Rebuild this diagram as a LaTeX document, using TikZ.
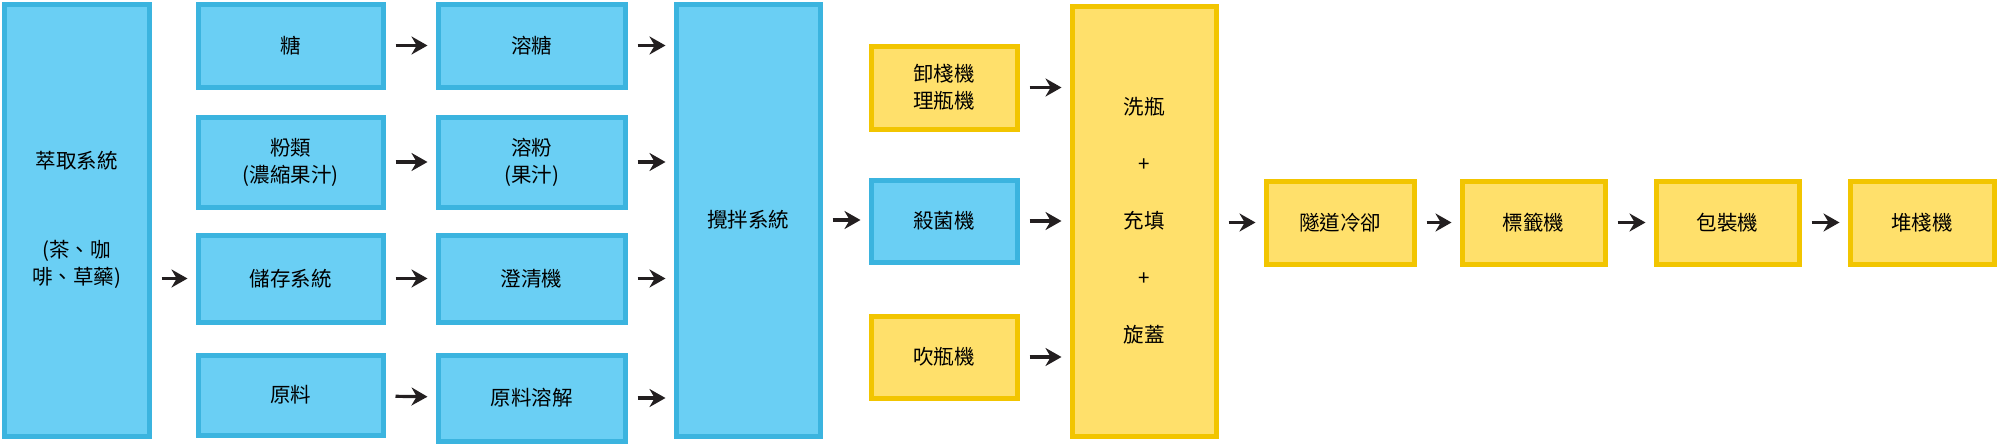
\documentclass[tikz,border=0pt]{standalone}
\usepackage{fontspec}
\newfontfamily\cjk{Noto Sans CJK TC}
\usetikzlibrary{arrows.meta}
\definecolor{bfill}{HTML}{6ACFF4}
\definecolor{bline}{HTML}{3BB4DF}
\definecolor{yfill}{HTML}{FFE06B}
\definecolor{yline}{HTML}{F2C500}
\definecolor{arr}{HTML}{231F20}

\begin{document}
\begin{tikzpicture}[x=1pt,y=-1pt,
    box/.style={draw=bline,fill=bfill,line width=5pt,inner sep=0pt,align=center,
      font=\cjk\fontsize{20.5}{27}\selectfont},
    ybox/.style={box,draw=yline,fill=yfill},
    flow/.style={draw=arr,line width=3.2pt,-{Stealth[length=16pt,width=18pt]},
      shorten <=10pt,shorten >=8pt}]
    \useasboundingbox (0,0) rectangle (2000,447);
    % intake column
    \node[box,minimum width=145,minimum height=432] (extract) at (76.5,220)
      {萃取系統\\[62pt](茶、咖\\啡、草藥)};
    \foreach \n/\y/\h/\t in {sugar/45.5/83/糖, powder/162/90/粉類\\(濃縮果汁),
        store/278.5/87/儲存系統, raw/395/80/原料}{
      \node[box,minimum width=185,minimum height=\h] (\n) at (290.5,\y) {\t};
    }
    \foreach \n/\y/\h/\t in {dsugar/45.5/83/溶糖, dpowder/162/90/溶粉\\(果汁),
        clarify/278.5/87/澄清機, rawsol/398/86/原料溶解}{
      \node[box,minimum width=187,minimum height=\h] (\n) at (531.5,\y) {\t};
    }
    \node[box,minimum width=144,minimum height=432] (mix) at (748,220) {攪拌系統};
    % bottling
    \node[ybox,minimum width=146,minimum height=83] (unload) at (944,87.5) {卸棧機\\理瓶機};
    \node[box,minimum width=146,minimum height=82] (steril) at (944,221) {殺菌機};
    \node[ybox,minimum width=146,minimum height=82] (blow) at (944,357) {吹瓶機};
    \node[ybox,minimum width=144,minimum height=430] (fill) at (1144,221)
      {洗瓶\\[30pt]+\\[30pt]充填\\[30pt]+\\[30pt]旋蓋};
    \node[ybox,minimum width=148,minimum height=83] (cool) at (1340,222.5) {隧道冷卻};
    \node[ybox,minimum width=143,minimum height=83] (label) at (1533.5,222.5) {標籤機};
    \node[ybox,minimum width=143,minimum height=83] (pack) at (1727.5,222.5) {包裝機};
    \node[ybox,minimum width=144,minimum height=83] (stack) at (1922,222.5) {堆棧機};
    % connectors
    \draw[flow] (extract.east |- store) -- (store);
    \foreach \a/\b in {sugar/dsugar,powder/dpowder,store/clarify,raw/rawsol}{
      \draw[flow] (\a) -- (\b);
      \draw[flow] (\b) -- (\b -| mix.west);
    }
    \draw[flow] (mix) -- (mix -| steril.west);
    \foreach \a in {unload,steril,blow}{
      \draw[flow] (\a) -- (\a -| fill.west);
    }
    \draw[flow] (fill.east |- cool) -- (cool);
    \draw[flow] (cool) -- (label);
    \draw[flow] (label) -- (pack);
    \draw[flow] (pack) -- (stack);
\end{tikzpicture}
\end{document}
